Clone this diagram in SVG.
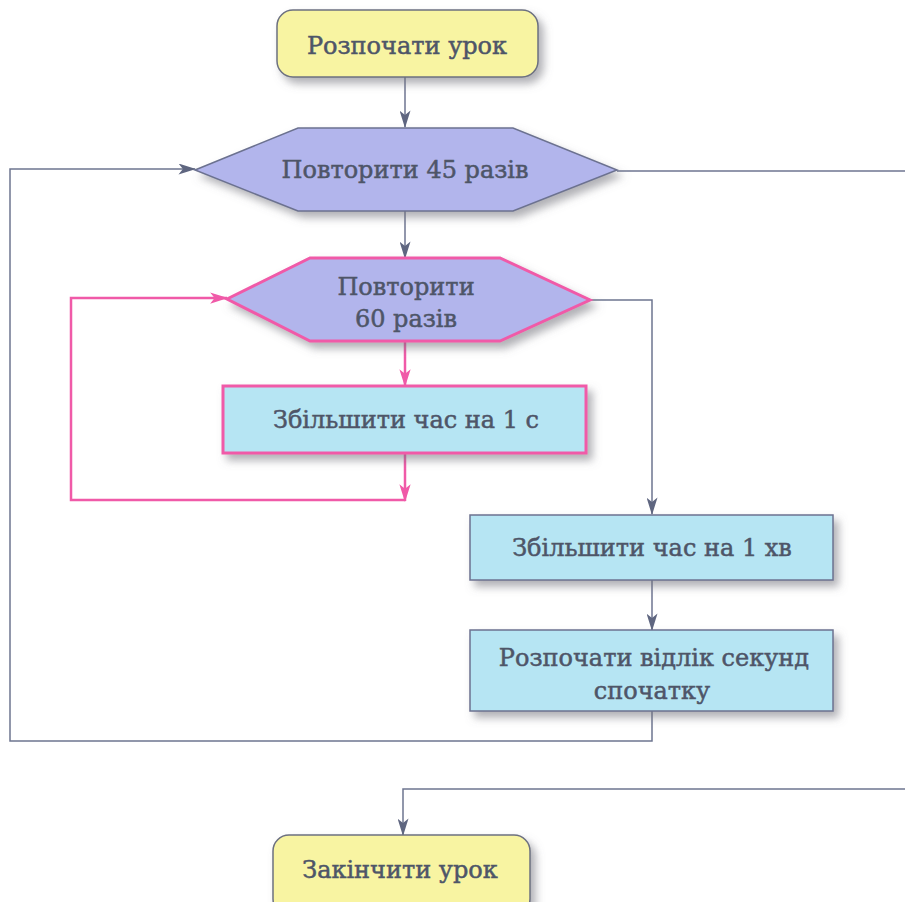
<svg xmlns="http://www.w3.org/2000/svg" width="905" height="902" viewBox="0 0 905 902">
<defs>
<filter id="sh" x="-10%" y="-20%" width="130%" height="160%">
<feDropShadow dx="5" dy="6" stdDeviation="4" flood-color="#70707a" flood-opacity="0.55"/>
</filter>
<marker id="ag" viewBox="0 0 16 10" refX="15" refY="5" markerWidth="18" markerHeight="11" markerUnits="userSpaceOnUse" orient="auto">
<path d="M0,0 L16,5 L0,10 L4,5 z" fill="#5f6680"/>
</marker>
<marker id="ap" viewBox="0 0 16 10" refX="15" refY="5" markerWidth="18" markerHeight="12" markerUnits="userSpaceOnUse" orient="auto">
<path d="M0,0 L16,5 L0,10 L4,5 z" fill="#f05aa8"/>
</marker>
</defs>
<style>
.t{font-family:"DejaVu Serif","Liberation Serif",serif;font-size:24px;fill:#4e5568;stroke:#4e5568;stroke-width:0.5;text-anchor:middle}
.term{fill:#f8f4a2;stroke:#6c7080;stroke-width:1.5}
.hexg{fill:#b2b5ec;stroke:#6c7290;stroke-width:1.5}
.hexp{fill:#b2b5ec;stroke:#f05aa8;stroke-width:3}
.boxg{fill:#b6e5f3;stroke:#6c7290;stroke-width:1.5}
.boxp{fill:#b6e5f3;stroke:#f05aa8;stroke-width:3}
.cg{fill:none;stroke:#6e7590;stroke-width:1.5}
.cp{fill:none;stroke:#f05aa8;stroke-width:2.5}
</style>
<rect width="905" height="902" fill="#ffffff"/>
<g id="connectors">
<path class="cg" d="M405,77 V127" marker-end="url(#ag)"/>
<path class="cg" d="M405,211 V258" marker-end="url(#ag)"/>
<path class="cg" d="M590,300 H652 V514" marker-end="url(#ag)"/>
<path class="cg" d="M652,580 V630" marker-end="url(#ag)"/>
<path class="cg" d="M652,711 V741 H10 V169 H195" marker-end="url(#ag)"/>
<path class="cg" d="M617,171 H905"/>
<path class="cg" d="M905,789 H403 V835" marker-end="url(#ag)"/>
<path class="cp" d="M405,342 V386" marker-end="url(#ap)"/>
<path class="cp" d="M405,454 V501" marker-end="url(#ap)"/>
<path class="cp" d="M405,500 H71 V298 H227" marker-end="url(#ap)"/>
</g>
<g id="start">
<rect class="term" x="277" y="10" width="261" height="67" rx="16" filter="url(#sh)"/>
<text class="t" x="407" y="54">Розпочати урок</text>
</g>
<g id="loop45">
<polygon class="hexg" points="195,170 298,128 513,128 617,170 513,211 298,211" filter="url(#sh)"/>
<text class="t" x="405" y="178">Повторити 45 разів</text>
</g>
<g id="loop60">
<polygon class="hexp" points="227,299 310,258 500,258 590,300 500,341 310,341" filter="url(#sh)"/>
<text class="t" x="406" y="295">Повторити</text>
<text class="t" x="406" y="327">60 разів</text>
</g>
<g id="inc-sec">
<rect class="boxp" x="223" y="386" width="363" height="67" filter="url(#sh)"/>
<text class="t" x="406" y="428">Збільшити час на 1 с</text>
</g>
<g id="inc-min">
<rect class="boxg" x="470" y="515" width="363" height="65" filter="url(#sh)"/>
<text class="t" x="652" y="556">Збільшити час на 1 хв</text>
</g>
<g id="reset">
<rect class="boxg" x="470" y="630" width="363" height="81" filter="url(#sh)"/>
<text class="t" x="654" y="666">Розпочати відлік секунд</text>
<text class="t" x="652" y="699">спочатку</text>
</g>
<g id="end">
<rect class="term" x="273" y="835" width="257" height="80" rx="16" filter="url(#sh)"/>
<text class="t" x="400" y="878">Закінчити урок</text>
</g>
</svg>
